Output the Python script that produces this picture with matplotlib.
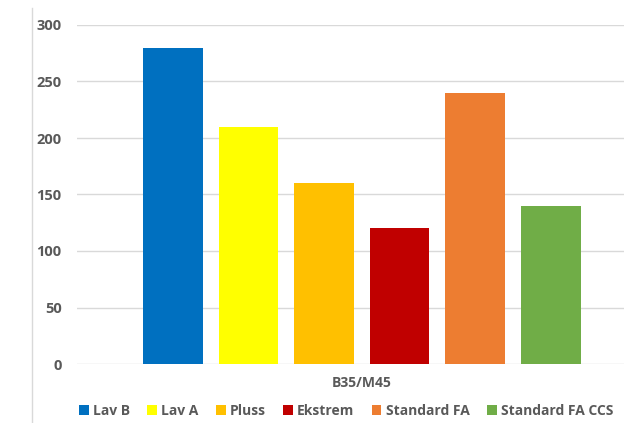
import matplotlib
matplotlib.use("Agg")
import matplotlib.pyplot as plt
from matplotlib.lines import Line2D
from matplotlib.patches import Patch

categories = ["Lav B", "Lav A", "Pluss", "Ekstrem", "Standard FA", "Standard FA CCS"]
values = [280, 210, 160, 120, 240, 140]
colors = ["#0070C0", "#FFFF00", "#FFC000", "#C00000", "#ED7D31", "#70AD47"]
group_label = "B35/M45"
yticks = [0, 50, 100, 150, 200, 250, 300]

plt.rcParams['font.family'] = ['Open Sans', 'DejaVu Sans']
txt = "#595959"

fig = plt.figure(figsize=(6.24, 4.23), dpi=100)
ax = fig.add_axes([77/624, 1-364/423, 1-77/624, (364-25)/423])

x = list(range(len(values)))
ax.bar(x, values, width=0.79, color=colors, zorder=3)
ax.set_xlim(-1.27, 5.97)
ax.set_ylim(0, 300)
ax.set_yticks(yticks)
ax.set_yticklabels([str(t) for t in yticks], fontsize=10.5, fontweight='bold', color=txt)
ax.set_xticks([])
ax.yaxis.grid(True, color="#d9d9d9", linewidth=1, zorder=0)
for s in ax.spines.values():
    s.set_visible(False)
ax.tick_params(axis='y', length=0, pad=11)

fig.text(362/624, 1-383/423, group_label, ha='center', va='center', fontsize=10, fontweight='bold', color=txt)

handles = [Patch(facecolor=c, edgecolor='none') for c in colors]
fig.legend(handles, categories, loc='center', bbox_to_anchor=(346/624, 1-411/423), ncol=6,
           frameon=False, handlelength=0.7, handleheight=0.7, handletextpad=0.3,
           columnspacing=1.25, prop={'weight': 'bold', 'size': 10})
for t in fig.legends[0].get_texts():
    t.set_color(txt)

fig.add_artist(Line2D([32/624, 32/624], [0, 1-8/423], color="#d9d9d9", linewidth=1))

fig.savefig("out.png", dpi=100)
